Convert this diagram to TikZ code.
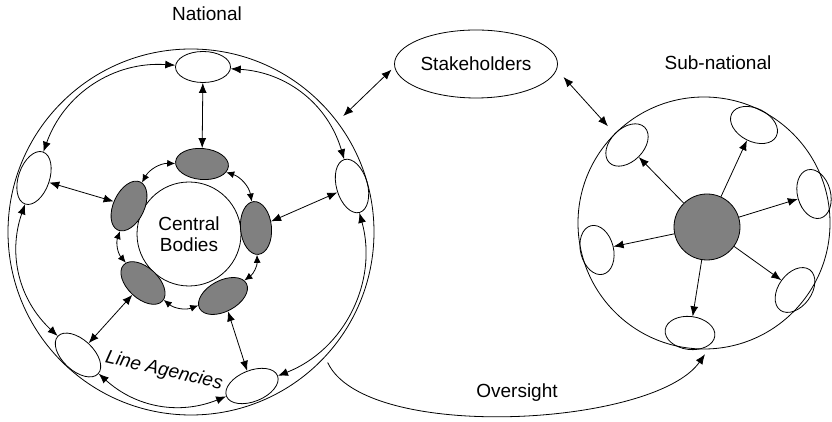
\documentclass[tikz,border=0pt]{standalone}
\usepackage{fontspec}
\setmainfont{Liberation Sans}
\usetikzlibrary{arrows.meta,shapes.geometric}

\tikzset{
  lbl/.style={font=\fontsize{19}{21}\selectfont},
  agency/.style={draw, ellipse, inner sep=0pt, minimum width=55pt, minimum height=31pt},
  body/.style={agency, fill=gray, minimum width=53pt, minimum height=31pt},
  unit/.style={agency, minimum width=50pt, minimum height=33pt},
  both/.style={{Latex[length=10pt,width=8pt]}-{Latex[length=10pt,width=8pt]}},
  ring/.style={{Latex[length=8pt,width=7pt]}-{Latex[length=8pt,width=7pt]}},
  one/.style={-{Latex[length=10pt,width=8pt]}}
}

\begin{document}
\begin{tikzpicture}[x=1pt, y=1pt, line width=0.8pt]
  \useasboundingbox (0,0) rectangle (832,422);

  \node[draw, circle, inner sep=0pt, minimum size=366pt] (nat) at (191,190) {};
  \node[lbl] (natlbl) at (207,408) {National};
  \node[draw, circle, inner sep=0pt, minimum size=104pt, lbl, align=center] (cb) at (189,188) {Central\\Bodies};

  \node[agency] (oT) at (203,355) {};
  \node[agency, rotate=-74] (oR) at (352,236) {};
  \node[agency, rotate=71] (oL) at (34,244) {};
  \node[agency, rotate=-43] (oBL) at (78,67) {};
  \node[agency, rotate=22] (oBR) at (252,36) {};

  \node[body, rotate=-5] (gT) at (202,258) {};
  \node[body, rotate=-85] (gR) at (256,194) {};
  \node[body, rotate=28] (gBR) at (223,126) {};
  \node[body, rotate=-43] (gBL) at (143,139) {};
  \node[body, rotate=65] (gL) at (129,216) {};

  \draw[both] (gT) -- (oT);
  \draw[both] (gR) -- (oR);
  \draw[both] (gL) -- (oL);
  \draw[both] (gBL) -- (oBL);
  \draw[both] (gBR) -- (oBR);

  \draw[both] (oT) to[bend right=37] (oL);
  \draw[both] (oL) to[bend right=33] (oBL);
  \draw[both] (oBL) to[bend right=32] (oBR);
  \draw[both] (oBR) to[bend right=42] (oR);
  \draw[both] (oR) to[bend right=35] (oT);

  \draw[ring] (gT) to[bend right=31] (gL);
  \draw[ring] (gL) to[bend right=30] (gBL);
  \draw[ring] (gBL) to[bend right=30] (gBR);
  \draw[ring] (gBR) to[bend right=28] (gR);
  \draw[ring] (gR) to[bend right=31] (gT);

  \node[lbl, rotate=-13] (la) at (164,51) {\itshape Line Agencies};

  \node[draw, ellipse, inner sep=0pt, minimum width=163pt, minimum height=68pt, lbl] (stake) at (476,358) {Stakeholders};

  \node[draw, circle, inner sep=0pt, minimum size=252pt] (sub) at (704,199) {};
  \node[lbl] (sublbl) at (718,359) {Sub-national};
  \node[draw, circle, fill=gray, inner sep=0pt, minimum size=66pt] (hub) at (707,195) {};

  \node[unit, rotate=45] (sUL) at (627,277) {};
  \node[unit, rotate=-27] (sUR) at (754,297) {};
  \node[unit, rotate=-75] (sR) at (814,228) {};
  \node[unit, rotate=54] (sLR) at (795,132) {};
  \node[unit, rotate=-7] (sB) at (690,89) {};
  \node[unit, rotate=-76] (sL) at (597,172) {};

  \draw[one] (hub) -- (sUL);
  \draw[one] (hub) -- (sUR);
  \draw[one] (hub) -- (sR);
  \draw[one] (hub) -- (sLR);
  \draw[one] (hub) -- (sB);
  \draw[one] (hub) -- (sL);

  \draw[both, shorten <=4pt, shorten >=8pt] (stake.182) -- (nat.37.6);
  \draw[both, shorten <=10pt, shorten >=10pt] (stake.-4) -- (sub.135);
  \draw[one, shorten <=6pt, shorten >=6pt] (nat.-43.5) to[out=-65, in=-125, looseness=0.63] (sub.-88);
  \node[lbl] (ov) at (517,29) {Oversight};
\end{tikzpicture}
\end{document}
